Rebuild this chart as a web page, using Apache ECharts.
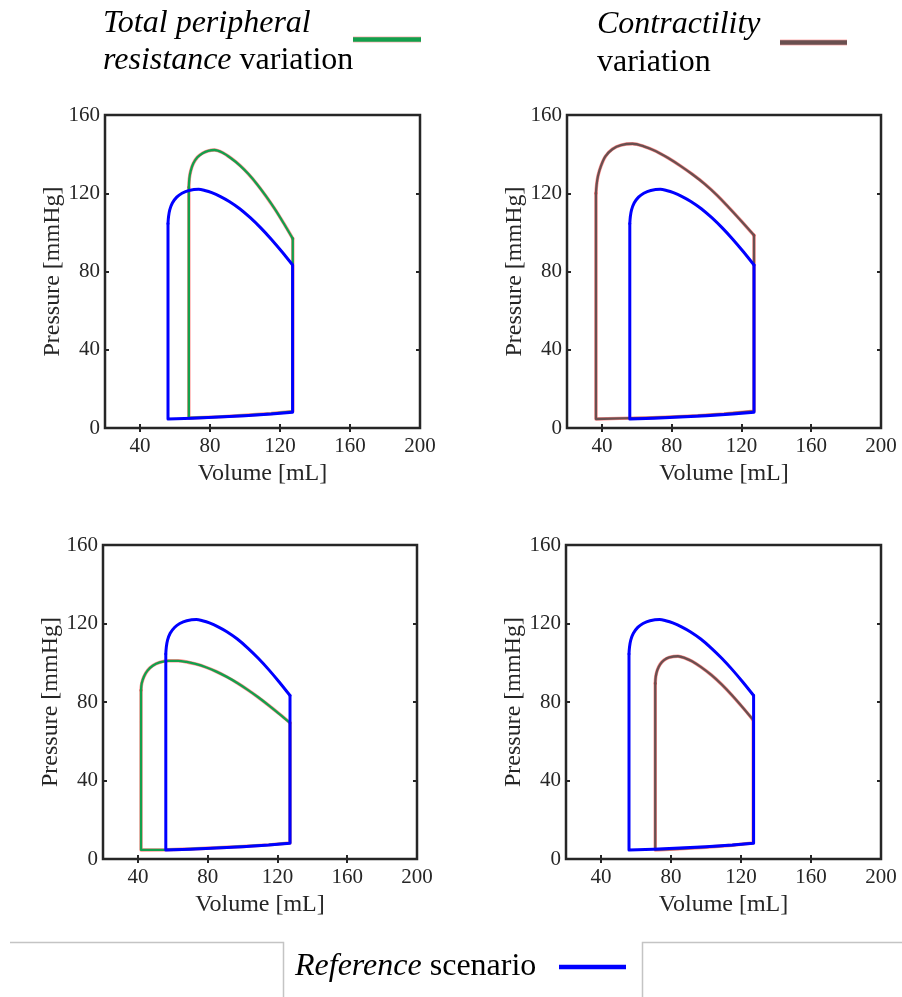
<!DOCTYPE html>
<html>
<head>
<meta charset="utf-8">
<script src="https://cdn.jsdelivr.net/npm/echarts@6/dist/echarts.min.js"></script>
<style>
html,body{margin:0;padding:0;background:#fff;}
#chart{width:902px;height:997px;}
</style>
</head>
<body>
<div id="chart"></div>
<script>
// ---- tick values ----
const xTickValues = [40, 80, 120, 160];
const xLabelValues = [40, 80, 120, 160, 200];
const yLabelValues = [0, 40, 80, 120, 160];

// Each loop: filling curve (bottom, left -> right) and ejection curve (top, right -> left)
// ---- Reference scenario loop (blue, same in every panel) ----
const refBotV = [56.0, 70, 85, 100, 115, 127.2];
const refBotP = [4.6, 5.0, 5.6, 6.3, 7.1, 8.0];
const refTopV = [127.2, 121, 115, 109, 103, 97, 91, 86, 81, 77, 73.5, 68, 64, 61, 58.5, 57, 56.3, 56.0];
const refTopP = [83.3, 90.2, 96.5, 102.3, 107.5, 112.1, 115.8, 118.3, 120.3, 121.4, 122, 121.4, 120, 118, 115, 111.5, 108, 104.5];

// ---- Total peripheral resistance variation: increase (top-left) ----
const tprHighBotV = [67.9, 85, 100, 115, 127.3];
const tprHighBotP = [5.1, 5.7, 6.5, 7.4, 8.5];
const tprHighTopV = [127.3, 122, 117, 112, 107, 102, 97, 92, 87, 82.5, 79, 75.8, 72.8, 70.5, 69, 68.2, 67.9];
const tprHighTopP = [96.8, 104.8, 112, 118.5, 124.5, 129.8, 134.3, 137.9, 140.8, 142.1, 141.7, 140.5, 138.4, 135.3, 131.5, 127.5, 123];

// ---- Contractility variation: increase (top-right) ----
const ctrHighBotV = [36.6, 50, 65, 80, 95, 110, 127.2];
const ctrHighBotP = [4.6, 4.9, 5.2, 5.7, 6.3, 7.2, 8.6];
const ctrHighTopV = [127.2, 120, 113, 106, 99, 92, 85, 78, 71, 64, 57.5, 51, 46, 42, 39.5, 37.8, 37.0, 36.6];
const ctrHighTopP = [98.5, 105.7, 112.5, 119, 124.7, 129.6, 134, 138, 141.5, 144, 145.3, 144.6, 142.5, 138.8, 134, 129, 124.5, 120];

// ---- Total peripheral resistance variation: decrease (bottom-left) ----
const tprLowBotV = [41.8, 56, 70, 85, 100, 115, 127.2];
const tprLowBotP = [4.6, 4.7, 5.1, 5.7, 6.4, 7.2, 8.2];
const tprLowTopV = [127.2, 121, 115, 109, 103, 97, 91, 85, 79, 73, 68, 63, 57.5, 52.5, 48.5, 45.5, 43.5, 42.2, 41.8];
const tprLowTopP = [69.4, 74.0, 78.3, 82.4, 86.2, 89.7, 92.8, 95.5, 97.7, 99.4, 100.4, 101, 101, 100.2, 98.5, 96, 93, 89.5, 86];

// ---- Contractility variation: decrease (bottom-right) ----
const ctrLowBotV = [71.0, 85, 100, 115, 127.0];
const ctrLowBotP = [4.6, 5.2, 6.0, 7.0, 8.2];
const ctrLowTopV = [127.0, 121, 115, 109, 103, 97, 92, 88, 84, 79, 76, 73.8, 72.2, 71.3, 71.0];
const ctrLowTopP = [70.8, 77.2, 83.3, 88.9, 93.8, 97.9, 100.8, 102.4, 103.3, 102.7, 101.3, 99.2, 96.3, 93, 89.5];

const zip = (a, b) => a.map((v, i) => [v, b[i]]);
// straight part of a loop: left isovolumic line, filling curve, right isovolumic line
const frame = (bv, bp, tv, tp) => [[tv[tv.length - 1], tp[tp.length - 1]]].concat(zip(bv, bp), [[tv[0], tp[0]]]);

const BLUE = '#0000FF';
const GREEN = '#12A04C';
const BROWN = '#6A5050';
const RED = '#FF2020';
const AX = '#262626';
const FONT = '"Liberation Serif", "Times New Roman", serif';

const panels = [
  { left: 105, top: 115, width: 315, height: 313, bv: tprHighBotV, bp: tprHighBotP, tv: tprHighTopV, tp: tprHighTopP, color: GREEN },
  { left: 567, top: 115, width: 314, height: 313, bv: ctrHighBotV, bp: ctrHighBotP, tv: ctrHighTopV, tp: ctrHighTopP, color: BROWN },
  { left: 103, top: 545, width: 314, height: 314, bv: tprLowBotV, bp: tprLowBotP, tv: tprLowTopV, tp: tprLowTopP, color: GREEN },
  { left: 566, top: 545, width: 315, height: 314, bv: ctrLowBotV, bp: ctrLowBotP, tv: ctrLowTopV, tp: ctrLowTopP, color: BROWN }
];

const grid = [], xAxis = [], yAxis = [], series = [];
const tickStyle = { color: AX, width: 2 };
function addLine(i, data, color, width, opacity, smooth) {
  series.push({ type: 'line', xAxisIndex: 2 * i, yAxisIndex: 2 * i, data: data, symbol: 'none',
    smooth: smooth ? 0.3 : false,
    lineStyle: { color: color, width: width, opacity: opacity, cap: 'round', join: 'round' }, silent: true });
}
panels.forEach((p, i) => {
  grid.push({ left: p.left, top: p.top, width: p.width, height: p.height, show: true,
    borderColor: AX, borderWidth: 2.5, backgroundColor: 'transparent' });
  xAxis.push({
    gridIndex: i, type: 'value', min: 20, max: 200, position: 'bottom',
    axisLine: { show: false },
    axisTick: { show: true, inside: true, length: 4, customValues: xTickValues, lineStyle: tickStyle },
    axisLabel: { customValues: xLabelValues, margin: 8, fontSize: 21, fontFamily: FONT, color: AX },
    splitLine: { show: false },
    name: 'Volume [mL]', nameLocation: 'middle', nameGap: 34,
    nameTextStyle: { fontSize: 24, fontFamily: FONT, color: AX }
  });
  xAxis.push({
    gridIndex: i, type: 'value', min: 20, max: 200, position: 'top',
    axisLine: { show: false },
    axisTick: { show: true, inside: true, length: 4, customValues: xTickValues, lineStyle: tickStyle },
    axisLabel: { show: false }, splitLine: { show: false }
  });
  yAxis.push({
    gridIndex: i, type: 'value', min: 0, max: 160, interval: 40, position: 'left',
    axisLine: { show: false },
    axisTick: { show: true, inside: true, length: 4, lineStyle: tickStyle },
    axisLabel: { margin: 5, fontSize: 21, fontFamily: FONT, color: AX },
    splitLine: { show: false },
    name: 'Pressure [mmHg]', nameLocation: 'middle', nameGap: 40, nameRotate: 90,
    nameTextStyle: { fontSize: 24, fontFamily: FONT, color: AX }
  });
  yAxis.push({
    gridIndex: i, type: 'value', min: 0, max: 160, interval: 40, position: 'right',
    axisLine: { show: false },
    axisTick: { show: true, inside: true, length: 4, lineStyle: tickStyle },
    axisLabel: { show: false }, splitLine: { show: false }
  });
  const top = zip(p.tv, p.tp), fr = frame(p.bv, p.bp, p.tv, p.tp);
  addLine(i, fr, RED, 3.4, 0.5, false);
  addLine(i, top, RED, 3.4, 0.5, true);
  addLine(i, fr, p.color, 2.3, 1, false);
  addLine(i, top, p.color, 2.3, 1, true);
  addLine(i, frame(refBotV, refBotP, refTopV, refTopP), BLUE, 3, 1, false);
  addLine(i, zip(refTopV, refTopP), BLUE, 3, 1, true);
});

const ital = { fontStyle: 'italic', fontSize: 32, fontFamily: FONT, fill: '#000' };
const norm = { fontStyle: 'normal', fontSize: 32, fontFamily: FONT, fill: '#000' };
const graphic = [
  { type: 'text', x: 103, y: 24, style: { text: 'Total peripheral', font: 'italic 32px ' + FONT, fill: '#000', verticalAlign: 'middle' } },
  { type: 'text', x: 103, y: 61, style: { text: '{i|resistance}{n| variation}', rich: { i: ital, n: norm }, font: '32px ' + FONT, fill: '#000', verticalAlign: 'middle' } },
  { type: 'line', shape: { x1: 353, y1: 39.5, x2: 421, y2: 39.5 }, style: { stroke: RED, lineWidth: 6, opacity: 0.35 } },
  { type: 'line', shape: { x1: 353, y1: 39.5, x2: 421, y2: 39.5 }, style: { stroke: GREEN, lineWidth: 4.6 } },
  { type: 'text', x: 597, y: 25, style: { text: 'Contractility', font: 'italic 32px ' + FONT, fill: '#000', verticalAlign: 'middle' } },
  { type: 'text', x: 597, y: 63, style: { text: 'variation', font: '32px ' + FONT, fill: '#000', verticalAlign: 'middle' } },
  { type: 'line', shape: { x1: 780, y1: 42.5, x2: 847, y2: 42.5 }, style: { stroke: RED, lineWidth: 6, opacity: 0.35 } },
  { type: 'line', shape: { x1: 780, y1: 42.5, x2: 847, y2: 42.5 }, style: { stroke: BROWN, lineWidth: 4.6 } },
  // bottom legend frame
  { type: 'polyline', shape: { points: [[10, 942.5], [283.5, 942.5], [283.5, 997]] }, style: { stroke: '#c4c4c4', lineWidth: 1.5, fill: null } },
  { type: 'polyline', shape: { points: [[642.5, 997], [642.5, 942.5], [902, 942.5]] }, style: { stroke: '#c4c4c4', lineWidth: 1.5, fill: null } },
  { type: 'text', x: 295, y: 967, style: { text: '{i|Reference}{n| scenario}', rich: { i: ital, n: norm }, font: '32px ' + FONT, fill: '#000', verticalAlign: 'middle' } },
  { type: 'line', shape: { x1: 559, y1: 967, x2: 626, y2: 967 }, style: { stroke: BLUE, lineWidth: 4.5 } }
];

const chart = echarts.init(document.getElementById('chart'), null, { renderer: 'canvas' });
chart.setOption({
  animation: false,
  backgroundColor: '#fff',
  grid, xAxis, yAxis, series, graphic
});
</script>
</body>
</html>
